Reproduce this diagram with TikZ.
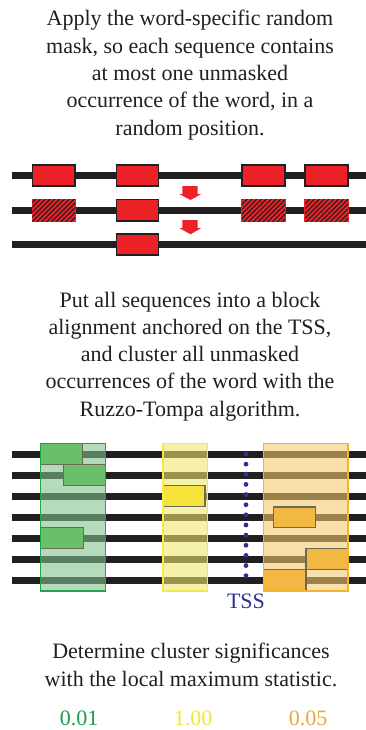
\documentclass[tikz,border=0pt]{standalone}
\usepackage{fontspec}
\setmainfont{Liberation Serif}
\usetikzlibrary{patterns.meta}
\definecolor{txt}{HTML}{231F20}
\definecolor{seqred}{HTML}{EC2227}
\definecolor{gbox}{HTML}{6ABF69}
\definecolor{ybox}{HTML}{F5E23A}
\definecolor{obox}{HTML}{F2B843}
\definecolor{gclu}{RGB}{128,193,141}
\definecolor{yclu}{RGB}{240,232,110}
\definecolor{oclu}{RGB}{245,200,110}
\definecolor{gedge}{HTML}{22A24A}
\definecolor{yedge}{HTML}{F4E84A}
\definecolor{oedge}{HTML}{F5B42A}
\definecolor{boxedge}{HTML}{6B6B55}
\definecolor{dotblue}{HTML}{2E3192}
\definecolor{numgreen}{HTML}{1A9E48}
\definecolor{numyellow}{HTML}{F1E633}
\definecolor{numorange}{HTML}{F0A53F}
\begin{document}
\begin{tikzpicture}[x=1pt,y=-1pt,
  caption/.style={text=txt, align=center, inner sep=0pt, anchor=north,
    font=\fontsize{22}{27.3}\selectfont},
  numlabel/.style={inner sep=0pt, anchor=base, font=\fontsize{22}{27.3}\selectfont},
  seq/.style={draw=txt, line width=7pt},
  redbox/.style={fill=seqred, draw=txt, line width=1.2pt},
  maskbox/.style={fill=seqred, draw=seqred, line width=1.2pt},
  hatch/.style={pattern={Lines[angle=45, distance=3.4pt, line width=1.2pt]}, pattern color=txt},
  redarrow/.style={fill=seqred},
  cluster/.style={fill opacity=0.58, line width=1.3pt},
  wbox/.style={draw=boxedge, line width=1.2pt}
]
\useasboundingbox (0,0) rectangle (366,730);
\fill[white] (0,0) rectangle (366,730);

% ---------- top caption
\node[caption] (cap1) at (190,10.3) {Apply the word-specific random\\mask, so each sequence contains\\at most one unmasked\\occurrence of the word, in a\\random position.};

% ---------- panel 1
\draw[seq] (12,175.7) -- (366,175.7);
\draw[seq] (12,210) -- (366,210);
\draw[seq] (12,244.3) -- (366,244.3);

\foreach \xa/\xb in {32.3/75,116.7/158.7,242/285,305/348}
  \filldraw[redbox] (\xa,165) rectangle (\xb,186);

\foreach \xa/\xb in {32.3/75,242/285,305/348}{
  \filldraw[maskbox] (\xa,199.3) rectangle (\xb,221);
  \fill[hatch] (\xa,199.3) rectangle (\xb,221);
}
\filldraw[redbox] (116.7,199.3) rectangle (158.7,221);
\filldraw[redbox] (116.7,234) rectangle (158.7,255);

\fill[redarrow] (182.3,186) -- (197.7,186) -- (197.7,194) -- (201.3,194) -- (190.5,200) -- (179.3,194) -- (182.3,194) -- cycle;
\fill[redarrow] (182.3,220) -- (197.7,220) -- (197.7,228) -- (201.3,228) -- (190.5,234.3) -- (179.3,228) -- (182.3,228) -- cycle;

% ---------- middle caption
\node[caption] (cap2) at (190,291.6) {Put all sequences into a block\\alignment anchored on the TSS,\\and cluster all unmasked\\occurrences of the word with the\\Ruzzo-Tompa algorithm.};

% ---------- panel 2
\foreach \i in {0,...,6}
  \draw[seq] (12,454+21*\i) -- (366,454+21*\i);

\fill[cluster, gclu] (40.7,443.3) rectangle (105.3,591);
\fill[cluster, yclu] (163,443.3) rectangle (207.7,591);
\fill[cluster, oclu] (263.7,443.3) rectangle (348,591);

\filldraw[wbox, fill=gbox] (40.7,443.3) rectangle (82.7,464.3);
\filldraw[wbox, fill=gbox] (63.3,464.3) rectangle (105.3,485.3);
\filldraw[wbox, fill=gbox] (40.7,527.3) rectangle (83.3,548.7);
\filldraw[wbox, fill=ybox] (163,485.7) rectangle (205,506.7);
\filldraw[wbox, fill=obox] (273.3,507) rectangle (315.3,527.7);
\filldraw[wbox, fill=obox] (306,548.3) rectangle (348,569.3);
\filldraw[wbox, fill=obox] (263.7,569.3) rectangle (306,591);

\draw[line width=1.3pt, gedge] (40.7,443.3) rectangle (105.3,591);
\draw[line width=1.3pt, yedge] (163,443.3) rectangle (207.7,591);
\draw[line width=1.3pt, oedge] (263.7,443.3) rectangle (348,591);

\foreach \i in {0,...,12}
  \fill[dotblue] (246,454+10.14*\i) circle (2.4pt);
\node[numlabel, text=dotblue] (tss) at (246,608) {TSS};

% ---------- bottom caption
\node[caption] (cap3) at (191,643.3) {Determine cluster significances\\with the local maximum statistic.};
\node[numlabel, text=numgreen] (p1) at (79,725) {0.01};
\node[numlabel, text=numyellow] (p2) at (193,725) {1.00};
\node[numlabel, text=numorange] (p3) at (308,725) {0.05};
\end{tikzpicture}
\end{document}
